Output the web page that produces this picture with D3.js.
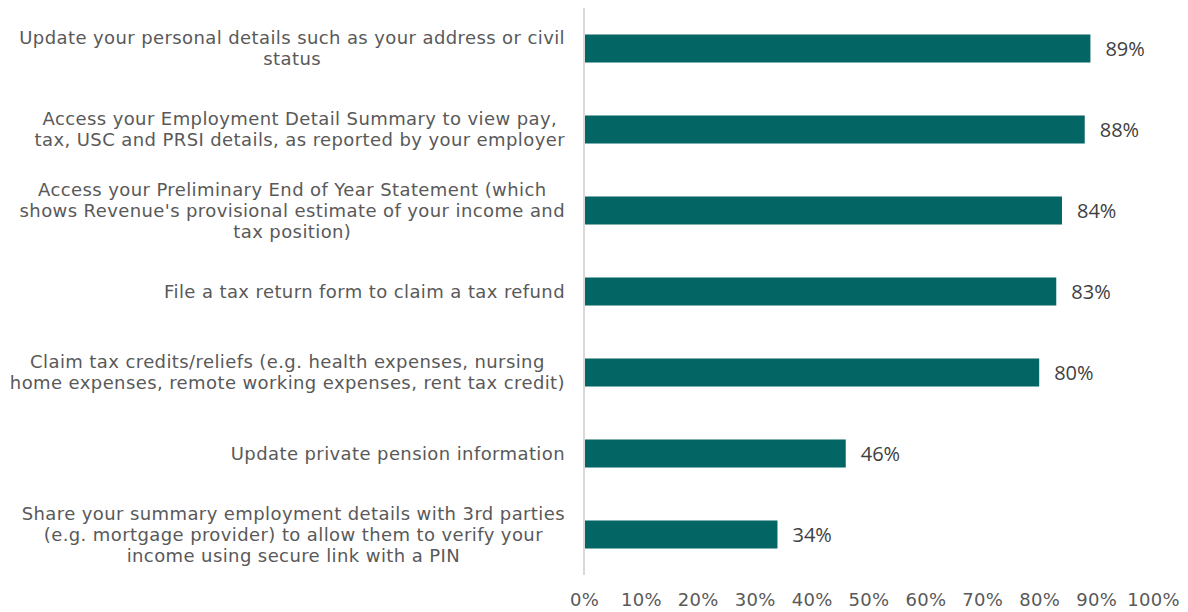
<!DOCTYPE html>
<meta charset="utf-8">
<style>
body { margin: 0; background: #fff; }
.cat { font: 18px "DejaVu Sans", Verdana, sans-serif; letter-spacing: 0.4px; fill: #595959; }
.val { font: 20px "Open Sans", "DejaVu Sans", sans-serif; fill: #404040; }
.tick text { font: 18px "DejaVu Sans", Verdana, sans-serif; letter-spacing: 0.3px; fill: #595959; }
</style>
<svg width="1188" height="612"></svg>
<script src="https://d3js.org/d3.v7.min.js"></script>
<script>

var categories = [
  ["Update your personal details such as your address or civil", "status"],
  ["Access your Employment Detail Summary to view pay,", "tax, USC and PRSI details, as reported by your employer"],
  ["Access your Preliminary End of Year Statement (which", "shows Revenue's provisional estimate of your income and", "tax position)"],
  ["File a tax return form to claim a tax refund"],
  ["Claim tax credits/reliefs (e.g. health expenses, nursing", "home expenses, remote working expenses, rent tax credit)"],
  ["Update private pension information"],
  ["Share your summary employment details with 3rd parties", "(e.g. mortgage provider) to allow them to verify your", "income using secure link with a PIN"]
];
var values = [89, 88, 84, 83, 80, 46, 34];
var ticks = [0, 10, 20, 30, 40, 50, 60, 70, 80, 90, 100];

var svg = d3.select("svg");
var x = d3.scaleLinear().domain([0, 100]).range([584, 1153]);
var y = d3.scaleBand()
    .domain(d3.range(values.length))
    .range([8, 575])
    .paddingInner(0.654)
    .paddingOuter(0.327);

// vertical axis line
svg.append("line")
    .attr("x1", x(0)).attr("x2", x(0))
    .attr("y1", 8).attr("y2", 575)
    .attr("stroke", "#d9d9d9").attr("stroke-width", 2);

svg.selectAll(".bar")
  .data(values)
  .enter().append("rect")
    .attr("class", "bar")
    .attr("x", x(0) + 1)
    .attr("y", function(d, i) { return y(i); })
    .attr("width", function(d) { return x(d) - x(0) - 1; })
    .attr("height", y.bandwidth())
    .attr("fill", "#036564");

svg.selectAll(".val")
  .data(values)
  .enter().append("text")
    .attr("class", "val")
    .attr("x", function(d) { return x(d) + 15; })
    .attr("y", function(d, i) { return y(i) + y.bandwidth() / 2; })
    .attr("dy", "0.35em")
    .text(function(d) { return d + "%"; });

// category labels: block right-aligned, lines centred
var lineH = 21;
categories.forEach(function(lines, i) {
  var g = svg.append("g");
  var cy = y(i) + y.bandwidth() / 2;
  var texts = lines.map(function(l, j) {
    return g.append("text").attr("class", "cat")
      .attr("y", cy + (j - (lines.length - 1) / 2) * lineH)
      .attr("dy", "0.35em")
      .attr("text-anchor", "middle")
      .text(l);
  });
  var maxW = d3.max(texts, function(t) { return t.node().getComputedTextLength(); });
  texts.forEach(function(t) { t.attr("x", 565 - maxW / 2); });
});

var axis = d3.axisBottom(x)
    .tickValues(ticks)
    .tickSize(0)
    .tickFormat(function(d) { return d + "%"; });
svg.append("g")
    .attr("transform", "translate(0,590)")
    .call(axis)
    .call(function(g) { g.select(".domain").remove(); });

</script>
